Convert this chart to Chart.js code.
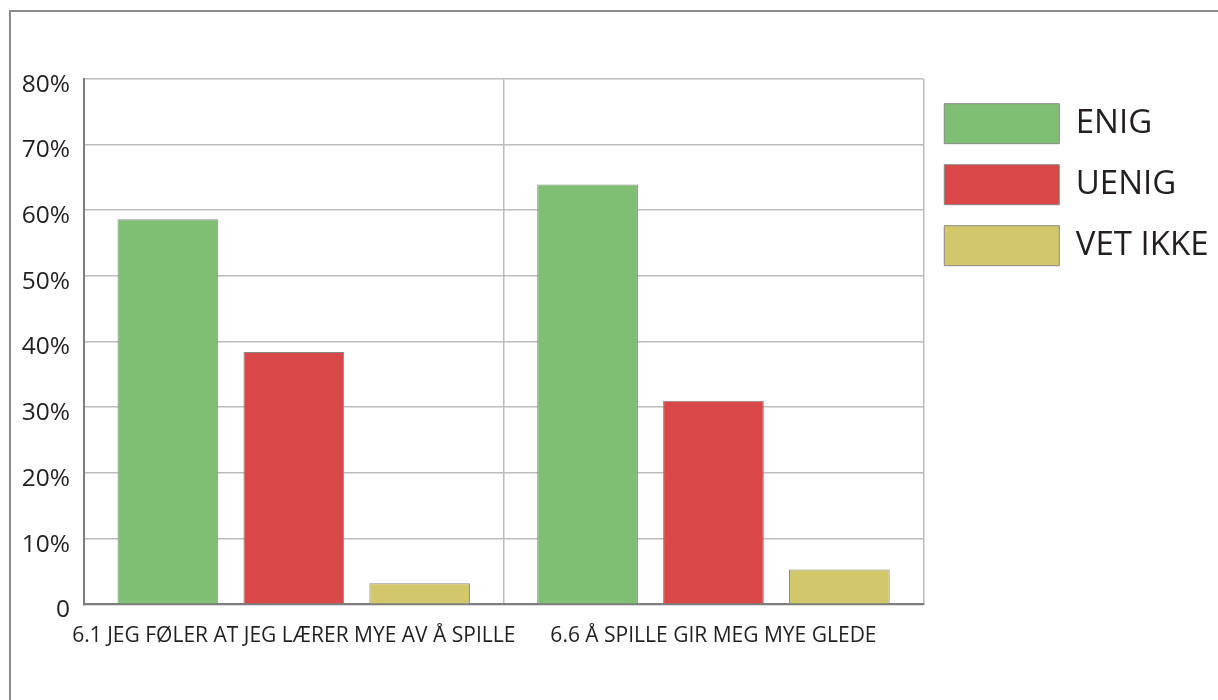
<!DOCTYPE html>
<html>
<head>
<meta charset="utf-8">
<script src="https://cdn.jsdelivr.net/npm/chart.js@4/dist/chart.umd.min.js"></script>
<style>
  html, body { margin: 0; padding: 0; background: #fff; overflow: hidden; }
  .frame {
    position: absolute; left: 9px; top: 10px; width: 1300px; height: 800px;
    border: 2px solid #8c8c8c; pointer-events: none;
  }
  .wrap { position: absolute; left: 0; top: 0; width: 1230px; height: 700px; }
</style>
</head>
<body>
<div class="frame"></div>
<div class="wrap"><canvas id="surveyChart"></canvas></div>
<script>
  const categories = [
    '6.1 JEG FØLER AT JEG LÆRER MYE AV Å SPILLE',
    '6.6 Å SPILLE GIR MEG MYE GLEDE'
  ];
  const enig = [58.6, 63.9];
  const uenig = [38.4, 31.0];
  const vetIkke = [3.2, 5.3];
  const yMax = 80;
  const yStep = 10;

  Chart.defaults.font.family = '"Open Sans", sans-serif';
  Chart.defaults.color = '#231f20';

  const gridColor = '#bcbcbc';
  const axisColor = '#7d7d7d';

  const ctx = document.getElementById('surveyChart').getContext('2d');
  new Chart(ctx, {
    type: 'bar',
    data: {
      labels: categories,
      datasets: [
        { label: 'ENIG', data: enig, backgroundColor: '#7fbf74', borderColor: '#888', borderWidth: 1 },
        { label: 'UENIG', data: uenig, backgroundColor: '#d84848', borderColor: '#888', borderWidth: 1 },
        { label: 'VET IKKE', data: vetIkke, backgroundColor: '#d3c76b', borderColor: '#888', borderWidth: 1 }
      ]
    },
    options: {
      responsive: true,
      maintainAspectRatio: false,
      animation: false,
      layout: { padding: { left: 0, top: 78.7, right: 11.5, bottom: 0 } },
      datasets: {
        bar: { categoryPercentage: 0.9, barPercentage: 0.8 }
      },
      plugins: {
        title: { display: false },
        tooltip: { enabled: false },
        legend: {
          position: 'right',
          align: 'start',
          fullSize: false,
          // blank title just nudges the legend rows down a little
          title: { display: true, text: ' ', font: { size: 4, lineHeight: 1 }, padding: 0 },
          labels: {
            boxWidth: 115,
            boxHeight: 40,
            padding: 21,
            font: { size: 33 },
            color: '#231f20'
          }
        }
      },
      scales: {
        x: {
          grid: { color: gridColor, lineWidth: 1.5, drawTicks: false, offset: true },
          border: { color: axisColor, width: 2 },
          ticks: {
            font: { size: 21 },
            padding: 19,
            maxRotation: 0,
            minRotation: 0,
            autoSkip: false
          },
          afterFit: (scale) => {
            scale.height = 95.7;
            scale.paddingLeft = 0;
            scale.paddingRight = 0;
          }
        },
        y: {
          min: 0,
          max: yMax,
          grid: { color: gridColor, lineWidth: 1.5, drawTicks: false },
          border: { color: axisColor, width: 2 },
          ticks: {
            stepSize: yStep,
            font: { size: 24.5 },
            padding: 14,
            labelOffset: 6,
            callback: (v) => v === 0 ? '0' : v + '%'
          },
          afterFit: (scale) => {
            scale.width = 84;
            scale.paddingTop = 0;
            scale.paddingBottom = 0;
          }
        }
      }
    }
  });
</script>
</body>
</html>
